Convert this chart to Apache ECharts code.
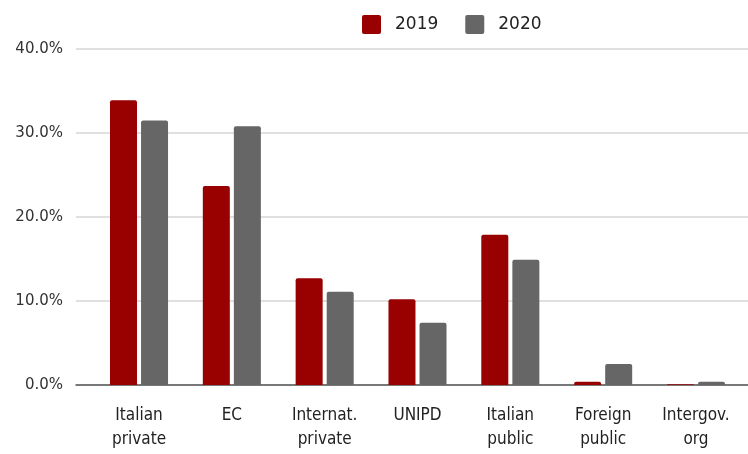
<!DOCTYPE html>
<html>
<head>
<meta charset="utf-8">
<script src="https://cdn.jsdelivr.net/npm/echarts@6/dist/echarts.min.js"></script>
<style>
  html, body { margin: 0; padding: 0; background: #fff; }
  #chart { width: 748px; height: 454px; }
</style>
</head>
<body>
<div id="chart"></div>
<script>
// Funding share by source, 2019 vs 2020 (percent of total)
const categories = ['Italian\nprivate', 'EC', 'Internat.\nprivate', 'UNIPD', 'Italian\npublic', 'Foreign\npublic', 'Intergov.\norg'];
const values2019 = [33.9, 23.7, 12.7, 10.2, 17.9, 0.4, 0.1];
const values2020 = [31.5, 30.8, 11.1, 7.4, 14.9, 2.5, 0.4];
const yTicks = [0, 10, 20, 30, 40];

const RED = '#990000';
const GREY = '#666666';

const chart = echarts.init(document.getElementById('chart'), null, { renderer: 'canvas' });

const yMin = yTicks[0];
const yMax = yTicks[yTicks.length - 1];
const yStep = yTicks[1] - yTicks[0];

// square legend swatch with slightly softened corners
const swatch = 'path://M2,0 H17 Q19,0 19,2 V17 Q19,19 17,19 H2 Q0,19 0,17 V2 Q0,0 2,0 Z';

chart.setOption({
  animation: false,
  backgroundColor: '#ffffff',
  legend: {
    left: 357,
    top: 10,
    itemWidth: 19,
    itemHeight: 19,
    itemGap: 27,
    icon: swatch,
    textStyle: {
      fontFamily: 'DejaVu Sans',
      fontSize: 17,
      color: '#222222',
      padding: [0, 0, 0, 9]
    },
    data: ['2019', '2020']
  },
  grid: [
    // background grid: gridlines and baseline span the full width
    { left: 76, right: 0, top: 49, bottom: 69 },
    // plotting grid for the bars
    { left: 92.6, right: 5.6, top: 49, bottom: 69 }
  ],
  xAxis: [
    {
      gridIndex: 0,
      type: 'category',
      data: [''],
      axisLine: { show: true, lineStyle: { color: '#555555', width: 1.5 } },
      axisTick: { show: false },
      axisLabel: { show: false },
      splitLine: { show: false }
    },
    {
      gridIndex: 1,
      type: 'category',
      data: categories,
      axisLine: { show: false },
      axisTick: { show: false },
      axisLabel: {
        interval: 0,
        margin: 19,
        fontFamily: '"Liberation Sans Narrow", "Arial Narrow", "DejaVu Sans Condensed", sans-serif',
        fontSize: 17,
        lineHeight: 24,
        color: '#222222'
      }
    }
  ],
  yAxis: [
    {
      gridIndex: 0,
      type: 'value',
      min: yMin,
      max: yMax,
      interval: yStep,
      axisLine: { show: false },
      axisTick: { show: false },
      axisLabel: {
        margin: 13,
        fontFamily: 'DejaVu Sans',
        fontSize: 15,
        color: '#333333',
        formatter: v => v.toFixed(1) + '%'
      },
      splitLine: { show: true, lineStyle: { color: '#d6d6d6', width: 1.5 } }
    },
    {
      gridIndex: 1,
      type: 'value',
      min: yMin,
      max: yMax,
      interval: yStep,
      show: false,
      splitLine: { show: false }
    }
  ],
  series: [
    {
      name: '2019',
      type: 'bar',
      xAxisIndex: 1,
      yAxisIndex: 1,
      data: values2019,
      barWidth: 27,
      barGap: '15%',
      itemStyle: { color: RED, borderRadius: [2, 2, 0, 0] }
    },
    {
      name: '2020',
      type: 'bar',
      xAxisIndex: 1,
      yAxisIndex: 1,
      data: values2020,
      barWidth: 27,
      barGap: '15%',
      itemStyle: { color: GREY, borderRadius: [2, 2, 0, 0] }
    }
  ]
});
</script>
</body>
</html>
